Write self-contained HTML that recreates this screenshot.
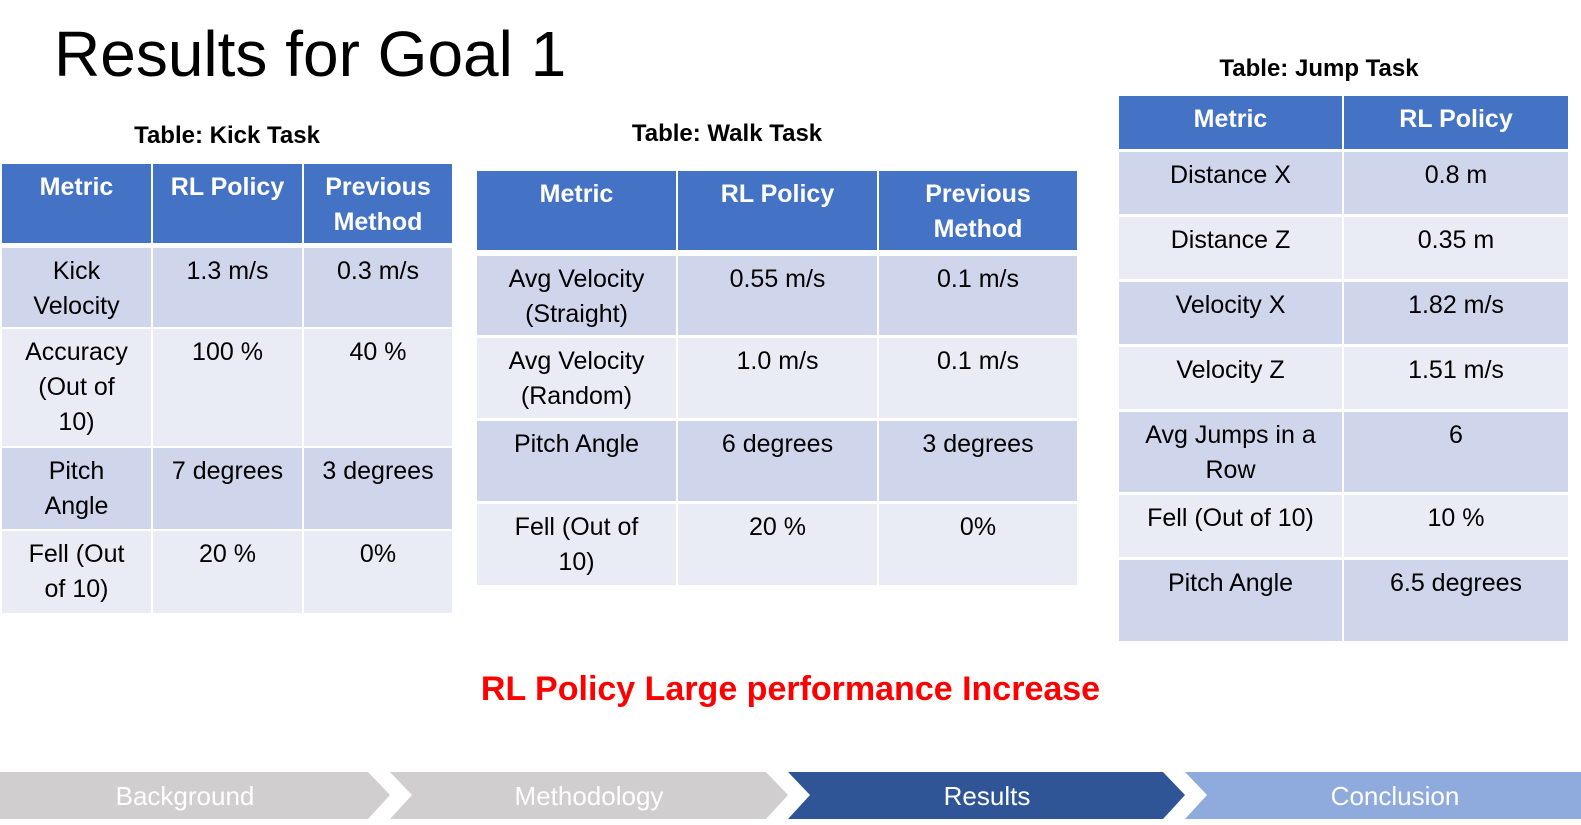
<!DOCTYPE html>
<html><head><meta charset="utf-8"><style>
body{margin:0;width:1581px;height:825px;background:#fff;position:relative;overflow:hidden;font-family:"Liberation Sans","DejaVu Sans",sans-serif}
.c{position:absolute;box-sizing:border-box;text-align:center;font-size:25px;line-height:35px;color:#000;padding:6px 14px 0 14px}
.h{background:#4472C4;color:#fff;font-weight:bold}
.d{background:#CFD5EA}.l{background:#E9EBF5}
.t{position:absolute;font-weight:bold;font-size:24px;text-align:center}
</style></head><body>
<div style="position:absolute;left:54px;top:14px;font-size:64px;line-height:80px">Results for Goal 1</div>
<div class="t" style="left:2px;width:450px;top:122px">Table: Kick Task</div>
<div class="t" style="left:477px;width:500px;top:120px">Table: Walk Task</div>
<div class="t" style="left:1119px;width:400px;top:55px">Table: Jump Task</div>
<div id="tables"></div>
<div style="position:absolute;left:0;width:1581px;top:670px;text-align:center;color:#FF0000;font-weight:bold;font-size:34px">RL Policy Large performance Increase</div>
<svg style="position:absolute;left:0;top:772px" width="1581" height="47">
<polygon points="0,0 368,0 390,23 368,47 0,47" fill="#D0CECE"/>
<polygon points="390,0 766,0 788,23 766,47 390,47 412,23" fill="#D0CECE"/>
<polygon points="788,0 1163,0 1185,23 1163,47 788,47 810,23" fill="#2F5597"/>
<polygon points="1185,0 1581,0 1581,47 1185,47 1207,23" fill="#8FAADC"/>
<text x="185" y="33" font-size="26" fill="#fff" text-anchor="middle" font-family="Liberation Sans">Background</text>
<text x="589" y="33" font-size="26" fill="#fff" text-anchor="middle" font-family="Liberation Sans">Methodology</text>
<text x="987" y="33" font-size="26" fill="#fff" text-anchor="middle" font-family="Liberation Sans">Results</text>
<text x="1395" y="33" font-size="26" fill="#fff" text-anchor="middle" font-family="Liberation Sans">Conclusion</text>
</svg>
<script>
const T=document.getElementById('tables');
function tbl(name,cols,rows,data){
 data.forEach((r,i)=>{r.forEach((txt,j)=>{
  const d=document.createElement('div');
  d.className='c '+(i==0?'h':(i%2?'d':'l'));
  d.style.left=cols[j][0]+'px';d.style.width=(cols[j][1]-cols[j][0])+'px';
  d.style.top=rows[i][0]+'px';d.style.height=(rows[i][1]-rows[i][0])+'px';
  d.innerHTML=txt;
  
  
  T.appendChild(d);});});
}
tbl('kick',[[2,151],[153,302],[304,452]],[[164,243],[248,327],[329,446],[448,529],[531,613]],
[['Metric','RL Policy','Previous Method'],['Kick Velocity','1.3 m/s','0.3 m/s'],['Accuracy<br>(Out of<br>10)','100 %','40 %'],['Pitch Angle','7 degrees','3 degrees'],['Fell (Out of 10)','20 %','0%']]);
tbl('walk',[[477,676],[678,877],[879,1077]],[[171,250],[256,335],[338,418],[421,501],[504,585]],
[['Metric','RL Policy','Previous Method'],['Avg Velocity (Straight)','0.55 m/s','0.1 m/s'],['Avg Velocity (Random)','1.0 m/s','0.1 m/s'],['Pitch Angle','6 degrees','3 degrees'],['Fell (Out of<br>10)','20 %','0%']]);
tbl('jump',[[1119,1342],[1344,1568]],[[96,149],[152,214],[217,279],[282,344],[347,409],[412,492],[495,557],[560,641]],
[['Metric','RL Policy'],['Distance X','0.8 m'],['Distance Z','0.35 m'],['Velocity X','1.82 m/s'],['Velocity Z','1.51 m/s'],['Avg Jumps in a Row','6'],['Fell (Out of 10)','10 %'],['Pitch Angle','6.5 degrees']]);
</script>
</body></html>
